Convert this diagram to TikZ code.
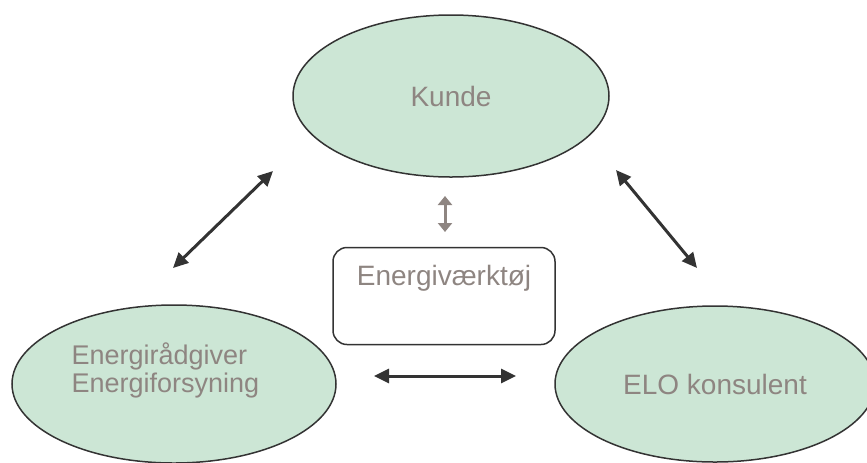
\documentclass[tikz,border=0pt]{standalone}
\usepackage{fontspec}
\setmainfont{Liberation Sans}
\usetikzlibrary{arrows.meta,%
                shapes.geometric,positioning}
\definecolor{ovalfill}{HTML}{CCE6D5}
\definecolor{txtgray}{HTML}{8E8581}
\definecolor{linegray}{HTML}{333333}

\begin{document}
\begin{tikzpicture}[x=0.5pt,y=-0.5pt,
  oval/.style={ellipse,draw=linegray,line width=0.75pt,fill=ovalfill,inner sep=0pt,
               font=\fontsize{14}{17}\selectfont,text=txtgray},
  txt/.style={font=\fontsize{14}{17}\selectfont,text=txtgray},
  toolbox/.style={draw=linegray,line width=0.75pt,rounded corners=7pt,
                  minimum width=111pt,minimum height=48.5pt},
  dblarrow/.style={{Triangle[length=7.5pt,width=7pt]}-{Triangle[length=7.5pt,width=7pt]},
                   line width=1.5pt,draw=linegray},
  smallarrow/.style={{Triangle[length=4.5pt,width=7pt]}-{Triangle[length=4.5pt,width=7pt]},
                     line width=1.5pt,draw=txtgray}]
\useasboundingbox (0,0) rectangle (867,462);
\node[oval,minimum width=158pt,minimum height=81pt] (kunde) at (451,96) {Kunde};
\node[oval,minimum width=162pt,minimum height=79pt] (raad) at (174,384) {};
\node[txt,anchor=west,align=left,inner sep=0pt,font=\fontsize{13.5}{14}\selectfont]
  (raadtxt) at ([shift={(60,-14)}]raad.west) {Energirådgiver\\Energiforsyning};
\node[oval,minimum width=160pt,minimum height=78pt] (elo) at (715,384) {ELO konsulent};
\node[toolbox] (tool) at (444,296) {};
\node[txt,below=5.5pt of tool.north,anchor=north] (tooltxt) {Energiværktøj};
\coordinate (ka) at (273,171);
\coordinate (ra) at (173,268);
\coordinate (kb) at (616,170);
\coordinate (eb) at (697,268);
\coordinate (rc) at (374,376);
\coordinate (ec) at (516,376);
\coordinate (kd) at (445,196);
\coordinate (td) at (445,232);
\draw[dblarrow] (ra) -- (ka);
\draw[dblarrow] (kb) -- (eb);
\draw[dblarrow] (rc) -- (ec);
\draw[smallarrow] (kd) -- (td);
\end{tikzpicture}
\end{document}
